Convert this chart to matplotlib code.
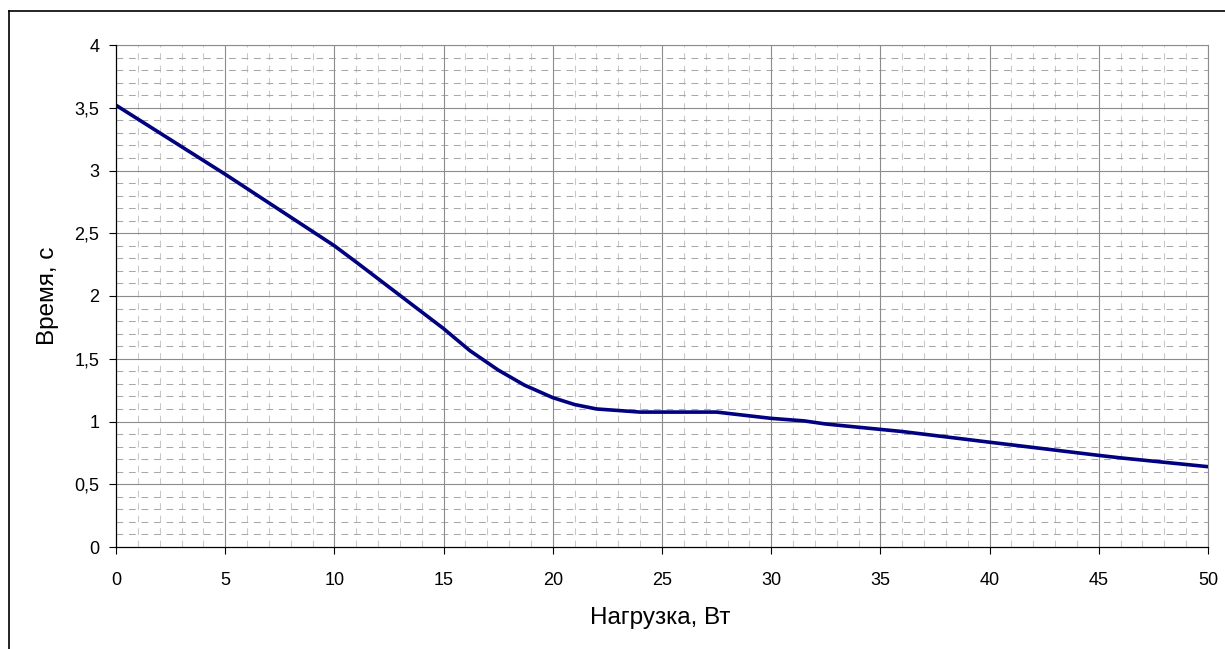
import matplotlib
matplotlib.use("Agg")
import matplotlib.pyplot as plt
from matplotlib.lines import Line2D
import numpy as np

plt.rcParams['font.family'] = ['Liberation Sans', 'DejaVu Sans']

# Data
load_w = [0, 5, 10, 11, 15, 16.2, 17.5, 18.7, 20, 21, 22, 24, 27.5, 30, 31.5, 32.5, 36, 40, 45, 46, 50]
time_s = [3.52, 2.97, 2.40, 2.27, 1.74, 1.565, 1.41, 1.29, 1.19, 1.135, 1.10, 1.075, 1.075,
          1.025, 1.005, 0.98, 0.92, 0.835, 0.73, 0.71, 0.64]
x_ticks = [0, 5, 10, 15, 20, 25, 30, 35, 40, 45, 50]
y_ticks = [0, 0.5, 1, 1.5, 2, 2.5, 3, 3.5, 4]
y_tick_labels = ["0", "0,5", "1", "1,5", "2", "2,5", "3", "3,5", "4"]
x_label = "Нагрузка, Вт"
y_label = "Время, с"

W, H = 1225, 649
fig = plt.figure(figsize=(W / 100, H / 100), dpi=100)
ax = fig.add_axes([116 / W, 1 - 547 / H, (1208 - 116) / W, (547 - 45) / H])

ax.set_xlim(0, 50)
ax.set_ylim(0, 4)

# minor grid
for xv in np.arange(0, 51, 1):
    if xv % 5 != 0:
        ax.axvline(xv, color='#c8c8c8', lw=0.75, ls=(0, (6.5, 5.5)), zorder=1)
for yv in np.arange(0, 4.01, 0.1):
    if abs(yv * 2 - round(yv * 2)) > 1e-6:
        ax.axhline(yv, color='#a8a8a8', lw=0.75, ls=(0, (6.5, 5.5)), zorder=1)
# major grid
for xv in x_ticks[1:]:
    ax.axvline(xv, color='#8c8c8c', lw=0.8, zorder=2)
for yv in y_ticks[1:]:
    ax.axhline(yv, color='#8c8c8c', lw=0.8, zorder=2)

ax.plot(load_w, time_s, color='#000080', lw=2.6, zorder=5, solid_joinstyle='round')

ax.set_xticks(x_ticks)
ax.set_xticklabels([str(v) for v in x_ticks])
ax.set_yticks(y_ticks)
ax.set_yticklabels(y_tick_labels)
ax.tick_params(axis='x', direction='out', length=5, width=0.8, pad=13, labelsize=13)
ax.tick_params(axis='y', direction='out', length=5, width=0.8, pad=7, labelsize=13)

for s in ['top', 'right']:
    ax.spines[s].set_color('#8c8c8c')
    ax.spines[s].set_linewidth(0.8)
for s in ['left', 'bottom']:
    ax.spines[s].set_color('black')
    ax.spines[s].set_linewidth(0.9)
    ax.spines[s].set_zorder(6)

fig.text(660 / W, 1 - 618 / H, x_label, ha='center', va='center', fontsize=17.5)
fig.text(48 / W, 1 - 296 / H, y_label, ha='center', va='center', rotation=90, fontsize=17.5)

# figure border (left and top visible)
fig.add_artist(Line2D([8.5 / W, 8.5 / W], [0, 1 - 11 / H], transform=fig.transFigure, color='black', lw=1.2))
fig.add_artist(Line2D([8.5 / W, 1], [1 - 11 / H, 1 - 11 / H], transform=fig.transFigure, color='black', lw=1.2))

fig.savefig("out.png", dpi=100)
